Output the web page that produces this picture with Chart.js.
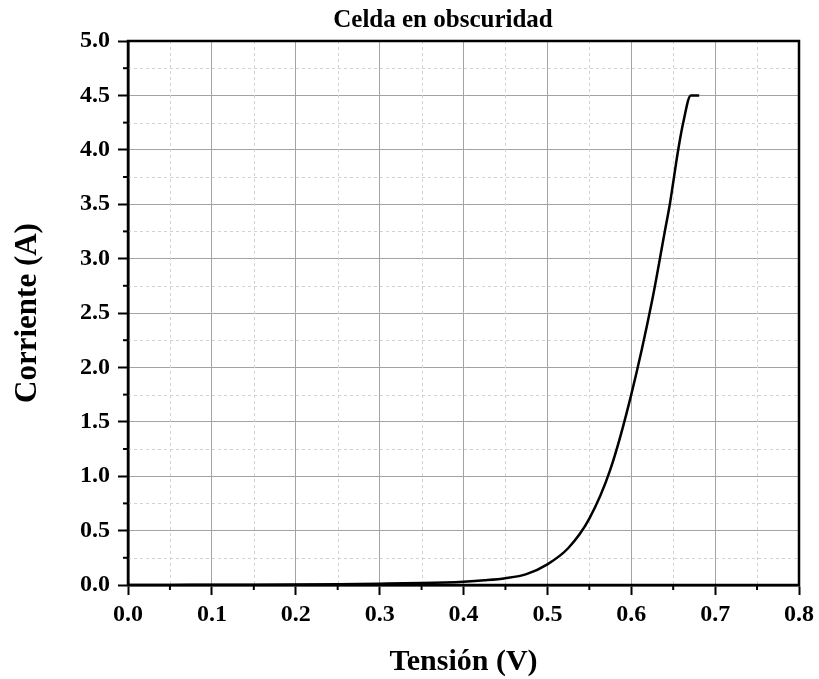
<!DOCTYPE html>
<html>
<head>
<meta charset="utf-8">
<script src="https://cdn.jsdelivr.net/npm/chart.js@4"></script>
<style>
  html, body { margin: 0; padding: 0; background: #fff; }
  #wrap { width: 819px; height: 679px; }
</style>
</head>
<body>
<div id="wrap"><canvas id="myChart"></canvas></div>
<script>
// data
var chartTitle = 'Celda en obscuridad';
var xTitle = 'Tensión (V)';
var yTitle = 'Corriente (A)';
var voltage = [0, 0.05, 0.1, 0.15, 0.2, 0.25, 0.3, 0.35, 0.4, 0.425, 0.45, 0.475, 0.5, 0.525, 0.55, 0.575, 0.6, 0.625, 0.64, 0.646, 0.65, 0.656, 0.662, 0.671, 0.681];
var current = [0, 0.001, 0.002, 0.003, 0.005, 0.008, 0.012, 0.018, 0.031, 0.043, 0.062, 0.1, 0.19, 0.34, 0.61, 1.06, 1.75, 2.62, 3.25, 3.5, 3.7, 4.0, 4.25, 4.5, 4.5];
var xTicks = [0, 0.1, 0.2, 0.3, 0.4, 0.5, 0.6, 0.7, 0.8];
var yTicks = [0, 0.5, 1, 1.5, 2, 2.5, 3, 3.5, 4, 4.5, 5];

var serif = '"Liberation Serif", "Times New Roman", serif';

// minor grid (dashed), minor ticks, frame and title
var extras = {
    id: 'extras',
    beforeDatasetsDraw: function (chart) {
        var c = chart.ctx, a = chart.chartArea;
        var xs = chart.scales.x, ys = chart.scales.y;
        c.save();
        c.strokeStyle = '#d2d2d2';
        c.lineWidth = 1;
        c.setLineDash([3, 3]);
        for (var i = 0; i < xTicks.length - 1; i++) {
            var px = Math.round(xs.getPixelForValue((xTicks[i] + xTicks[i + 1]) / 2)) + 0.5;
            c.beginPath(); c.moveTo(px, a.top); c.lineTo(px, a.bottom); c.stroke();
        }
        for (var j = 0; j < yTicks.length - 1; j++) {
            var py = Math.round(ys.getPixelForValue((yTicks[j] + yTicks[j + 1]) / 2)) + 0.5;
            c.beginPath(); c.moveTo(a.left, py); c.lineTo(a.right, py); c.stroke();
        }
        c.restore();
    },
    afterDraw: function (chart) {
        var c = chart.ctx, a = chart.chartArea;
        var xs = chart.scales.x, ys = chart.scales.y;
        c.save();
        c.strokeStyle = '#000';
        c.lineWidth = 2;
        for (var i = 0; i < xTicks.length - 1; i++) {
            var px = xs.getPixelForValue((xTicks[i] + xTicks[i + 1]) / 2);
            c.beginPath(); c.moveTo(px, a.bottom); c.lineTo(px, a.bottom + 5); c.stroke();
        }
        for (var j = 0; j < yTicks.length - 1; j++) {
            var py = ys.getPixelForValue((yTicks[j] + yTicks[j + 1]) / 2);
            c.beginPath(); c.moveTo(a.left, py); c.lineTo(a.left - 5, py); c.stroke();
        }
        c.lineWidth = 2.5;
        c.strokeRect(a.left, a.top, a.right - a.left, a.bottom - a.top);
        c.fillStyle = '#000';
        c.font = 'bold 25px ' + serif;
        c.textAlign = 'center';
        c.textBaseline = 'alphabetic';
        c.fillText(chartTitle, 443, 27);
        c.restore();
    }
};

var ctx = document.getElementById('myChart').getContext('2d');

var myChart = new Chart(ctx, {
    type: 'line',
    data: {
        datasets: [{
            label: 'Corriente',
            data: voltage.map(function (v, i) { return { x: v, y: current[i] }; }),
            borderColor: '#000',
            borderWidth: 2.5,
            pointRadius: 0,
            fill: false,
            cubicInterpolationMode: 'monotone'
        }]
    },
    options: {
        responsive: true,
        maintainAspectRatio: false,
        animation: false,
        layout: { padding: { top: 41, right: 18, left: 0, bottom: 0 } },
        plugins: {
            legend: { display: false },
            title: { display: false },
            tooltip: { enabled: false }
        },
        scales: {
            x: {
                type: 'linear',
                min: 0,
                max: 0.8,
                afterFit: function (s) { s.height = 94; },
                afterBuildTicks: function (s) { s.ticks = xTicks.map(function (v) { return { value: v }; }); },
                ticks: {
                    color: '#000',
                    padding: 5,
                    maxRotation: 0,
                    font: { family: serif, size: 24, weight: 'bold' },
                    callback: function (v) { return v.toFixed(1); }
                },
                grid: { color: '#a3a3a3', lineWidth: 1, tickLength: 10, tickColor: '#000', tickWidth: 2 },
                border: { color: '#000', width: 2.5 },
                title: {
                    display: true,
                    text: xTitle,
                    color: '#000',
                    font: { family: serif, size: 30, weight: 'bold', lineHeight: 1 },
                    padding: { top: 0, bottom: 2 }
                }
            },
            y: {
                type: 'linear',
                min: 0,
                max: 5,
                afterFit: function (s) { s.width = 128; },
                afterBuildTicks: function (s) { s.ticks = yTicks.map(function (v) { return { value: v }; }); },
                ticks: {
                    color: '#000',
                    padding: 8,
                    font: { family: serif, size: 24, weight: 'bold' },
                    callback: function (v) { return v.toFixed(1); }
                },
                grid: { color: '#a3a3a3', lineWidth: 1, tickLength: 10, tickColor: '#000', tickWidth: 2 },
                border: { color: '#000', width: 2.5 },
                title: {
                    display: true,
                    text: yTitle,
                    color: '#000',
                    font: { family: serif, size: 31, weight: 'bold', lineHeight: 1 },
                    padding: { top: 12, bottom: 0 }
                }
            }
        }
    },
    plugins: [extras]
});
</script>
</body>
</html>
